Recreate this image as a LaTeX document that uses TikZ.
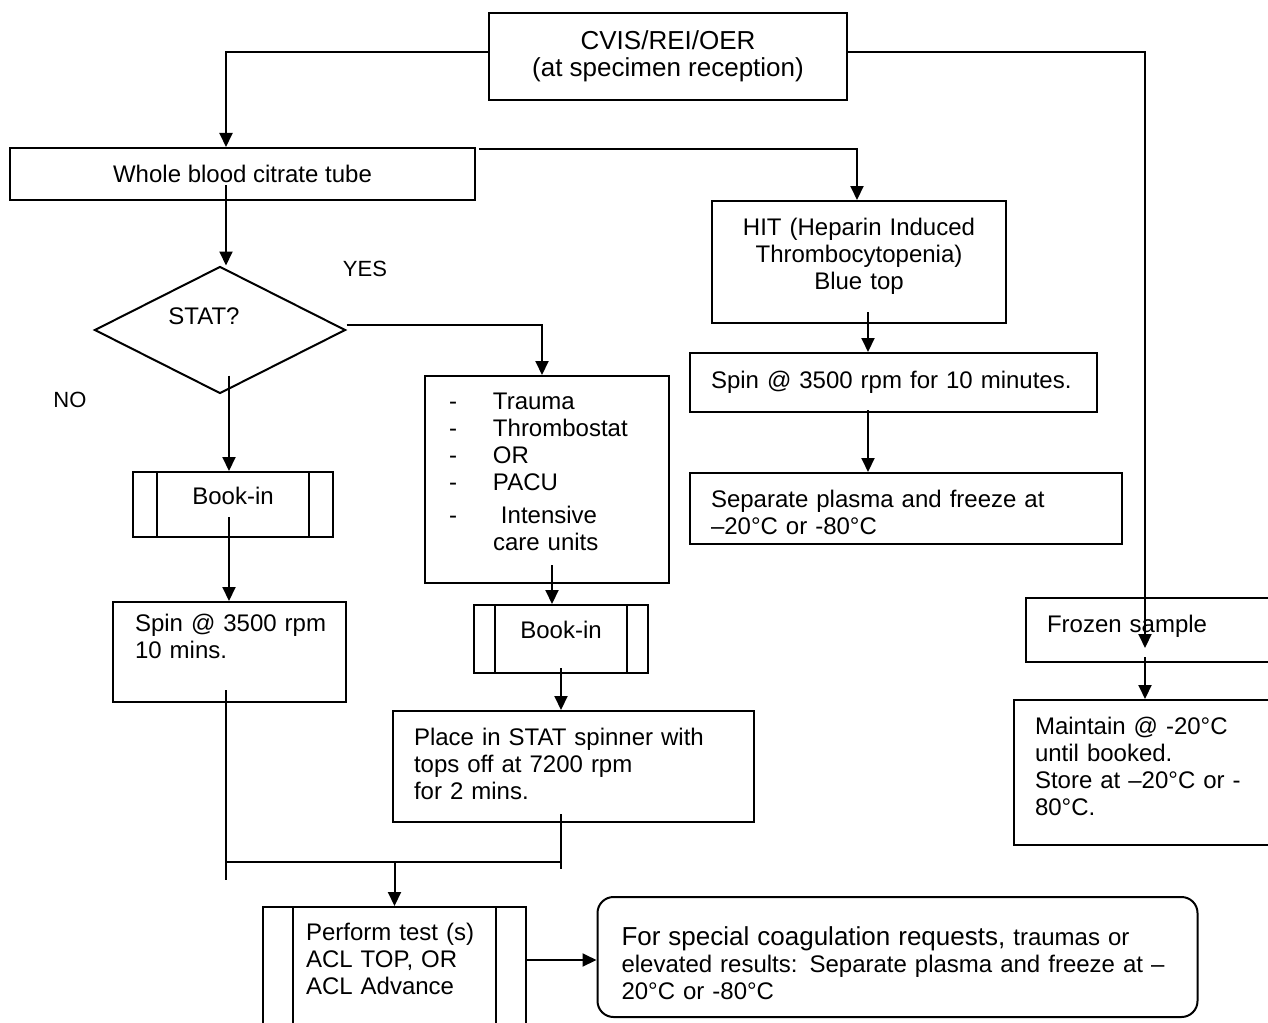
\documentclass[tikz,border=0pt]{standalone}
\usepackage{fontspec}
\setmainfont{Liberation Sans}
\usetikzlibrary{shapes.geometric, arrows.meta, positioning}

\tikzset{
    box/.style={draw, rectangle, inner ysep=0pt, align=left},
    bookin/.style={box, path picture={
        \draw[line width=1pt] ([xshift=#1]path picture bounding box.north west) -- ([xshift=#1]path picture bounding box.south west);
        \draw[line width=1pt] ([xshift=-#1]path picture bounding box.north east) -- ([xshift=-#1]path picture bounding box.south east);}},
    decision/.style={draw, diamond, inner sep=0pt},
    note/.style={box, rounded corners=8pt},
    >={Triangle[width=6.5pt,length=7pt]}
}

\begin{document}
\begin{tikzpicture}[x=0.5pt, y=-0.5pt, line width=1pt,
        every node/.style={font=\fontsize{12}{13.5}\selectfont}]
            \useasboundingbox (0,0) rectangle (1268,1022);

            % Reception and tube types
            \node[box, minimum width=179pt, minimum height=43.5pt, align=center, font=\fontsize{13}{13.5}\selectfont] (cvis) at (668,56.5) {CVIS/REI/OER\\(at specimen reception)};
            \node[box, minimum width=232.5pt, minimum height=26pt, align=center] (whole) at (242.5,174) {Whole blood citrate tube};
            \node[box, minimum width=147pt, minimum height=61pt, inner xsep=8pt, text width=131pt, align=center, text height=0pt, text depth=26.5pt] (hit) at (859,262) {HIT (Heparin Induced\\Thrombocytopenia)\\Blue top};

            % STAT decision
            \node[decision, minimum width=125.5pt, minimum height=63.5pt] (stat) at (220,330) {};
            \node (statlbl) at (204,316) {STAT?};
            \node[font=\fontsize{11}{13}\selectfont] (yes) at (365,269) {YES};
            \node[font=\fontsize{11}{13}\selectfont] (no) at (70,400) {NO};

            % Routine branch
            \node[bookin=12pt, minimum width=100pt, minimum height=32.5pt, align=center, text height=0pt, text depth=0pt] (book1) at (233,504.5) {Book-in};
            \node[box, minimum width=116.5pt, minimum height=50pt, inner xsep=11pt, text width=94.5pt, text height=0pt, text depth=20.5pt] (spin1) at (229.5,652) {\mbox{Spin @ 3500 rpm}\\10 mins.};

            % STAT branch
            \node[box, minimum width=122pt, minimum height=103.5pt, inner xsep=12pt, text width=98pt, text height=0pt, text depth=70.5pt] (trauma) at (547,479.5)
                {\makebox[22pt][l]{-}Trauma\\\makebox[22pt][l]{-}Thrombostat\\\makebox[22pt][l]{-}OR\\\makebox[22pt][l]{-}PACU\\[3pt]\makebox[22pt][l]{-}\ Intensive\\\hspace*{22pt}care units};
            \node[bookin=10.5pt, minimum width=87pt, minimum height=34pt, align=center, text height=0pt, text depth=0.5pt] (book2) at (561,639) {Book-in};
            \node[box, minimum width=180.5pt, minimum height=55.5pt, inner xsep=10.5pt, text width=159.5pt, text height=0pt, text depth=21pt] (place) at (573.5,766.5) {Place in STAT spinner with\\tops off at 7200 rpm\\for 2 mins.};

            % HIT branch
            \node[box, minimum width=203.5pt, minimum height=29.5pt, inner xsep=10.5pt, text width=182.5pt, text height=6pt, text depth=0pt] (spin2) at (893.5,382.5) {Spin @ 3500 rpm for 10 minutes.};
            \node[box, minimum width=216pt, minimum height=35.5pt, inner xsep=10.5pt, text width=195pt, text height=0pt, text depth=1pt] (separate) at (906,508.5) {Separate plasma and freeze at\\–20°C or -80°C};

            % Frozen branch
            \node[box, minimum width=127pt, minimum height=32pt, inner xsep=10.5pt, text width=106pt, text height=2.5pt, text depth=0pt] (frozen) at (1153,630) {Frozen sample};
            \node[box, minimum width=133pt, minimum height=72.5pt, inner xsep=10.5pt, text width=112pt, text height=0pt, text depth=38pt] (maintain) at (1147,772.5) {Maintain @ -20°C\\until booked.\\Store at –20°C or -\\80°C.};

            % Testing
            \node[bookin=15pt, minimum width=131.5pt, minimum height=70pt, inner xsep=21.5pt, text width=88.5pt, text height=0pt, text depth=36.5pt] (perform) at (394.5,977) {Perform test (s)\\ACL TOP, OR\\ACL Advance};
            \node[note, minimum width=300pt, minimum height=60pt, inner xsep=12pt, text width=276pt, text height=0pt, text depth=11.3pt] (note) at (897.5,957)
                {{\fontsize{13}{13.5}\selectfont For special coagulation requests,} traumas or\\elevated results: Separate plasma and freeze at –\\20°C or -80°C};

            % Free ends
            \coordinate (fz) at (1145,648);
            \coordinate (fzout) at (1145,657);
            \coordinate (lfoot) at (225.5,880);
            \coordinate (rfoot) at (561,869);
            \coordinate (joinl) at (225.5,862);
            \coordinate (joinr) at (561,862);
            \coordinate (joinm) at (394.5,862);

            % Connectors
            \draw[->] ([yshift=2.25pt]cvis.west) -| ([xshift=-8.25pt]whole.north);
            \draw[->] ([yshift=2.25pt]cvis.east) -| (fz);
            \draw[->] (fzout) -- (fzout |- maintain.north);
            \draw[->] ([xshift=-8.25pt,yshift=-5.5pt]whole.center) -- ([xshift=3pt]stat.north);
            \draw[->] ([xshift=1.5pt,yshift=-1pt]whole.north east) -| ([xshift=-1pt]hit.north);
            \draw[->] ([yshift=2.5pt]stat.east) -| ([xshift=-2.5pt]trauma.north);
            \draw[->] ([xshift=4.5pt,yshift=9.5pt]stat.south) -- ([xshift=4.5pt]stat.south |- book1.north);
            \draw[->] ([xshift=-2pt,yshift=-6.25pt]book1.center) -- ([xshift=-2pt]book1.center |- spin1.north);
            \draw ([xshift=-2pt,yshift=6.5pt]spin1.south) -- (lfoot);
            \draw ([xshift=-6.25pt,yshift=4.5pt]place.south) -- (rfoot);
            \draw (joinl) -- (joinr);
            \draw[->] (joinm) -- (perform.north);
            \draw[->] ([xshift=2.5pt,yshift=9.5pt]trauma.south) -- ([xshift=2.5pt]trauma.south |- book2.north);
            \draw[->] ([yshift=3pt]book2.south) -- (place.north -| book2.south);
            \draw[->] ([xshift=4.5pt,yshift=6pt]hit.south) -- ([xshift=4.5pt]hit.south |- spin2.north);
            \draw[->] ([xshift=-12.75pt,yshift=1.5pt]spin2.south) -- ([xshift=-12.75pt]spin2.south |- separate.north);
            \draw[->] ([yshift=8.5pt]perform.east) -- ([yshift=8.5pt]perform.east -| note.west);
        \end{tikzpicture}
\end{document}
